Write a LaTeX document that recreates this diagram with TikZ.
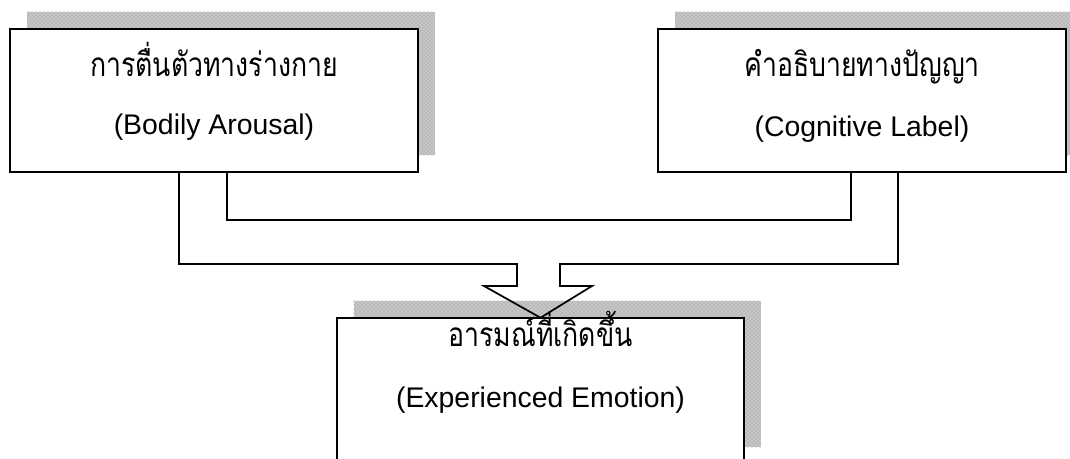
\documentclass[tikz,border=0pt]{standalone}
\usepackage{fontspec}
\setmainfont{Liberation Sans}
\newfontfamily\thaifont[Script=Thai,FakeStretch=0.8]{Loma}
\usetikzlibrary{calc,patterns}
\tikzset{
  x=0.75pt, y=-0.75pt,
  box/.style={draw=black, line width=1.3pt, fill=white, inner sep=0pt},
  shadowfill/.style={preaction={fill=gray!45}, pattern=crosshatch dots, pattern color=gray!85},
  conn/.style={draw=black, line width=1.3pt, line join=miter},
  thaitxt/.style={anchor=base, font=\thaifont\fontsize{25}{28}\selectfont, inner sep=0pt},
  engtxt/.style={anchor=base, font=\fontsize{21.3}{25}\selectfont, inner sep=0pt}
}
\begin{document}
\begin{tikzpicture}
\useasboundingbox (0,0) rectangle (1070,459);
\clip (0,0) rectangle (1070,459);
% boxes (positions)
\path (214,100.5) node[minimum width=306pt, minimum height=107.25pt, inner sep=0pt] (L) {};
\path (862,100.5) node[minimum width=306pt, minimum height=107.25pt, inner sep=0pt] (R) {};
\path (540.5,391) node[minimum width=305.25pt, minimum height=109.5pt, inner sep=0pt] (E) {};
% shadows
\fill[shadowfill] ($(L.south west)+(17,-17)$) rectangle ($(L.north east)+(17,-17)$);
\fill[shadowfill] ($(R.south west)+(17,-17)$) rectangle ($(R.north east)+(17,-17)$);
\fill[shadowfill] ($(E.south west)+(17,-17)$) rectangle ($(E.north east)+(17,-17)$);
% box frames
\draw[box] (L.south west) rectangle (L.north east);
\draw[box] (R.south west) rectangle (R.north east);
\draw[box] (E.south west) rectangle (E.north east);
% texts
\node[thaitxt] (Lt) at (214,77) {การตื่นตัวทางร่างกาย};
\node[engtxt] (Le) at (214,135) {(Bodily Arousal)};
\node[thaitxt] (Rt) at (862,77) {คำอธิบายทางปัญญา};
\node[engtxt] (Re) at (862,137) {(Cognitive Label)};
\node[thaitxt] (Et) at (540.5,347) {อารมณ์ที่เกิดขึ้น};
\node[engtxt] (Ee) at (540.5,407) {(Experienced Emotion)};
% connector reference coordinates
\coordinate (lo) at (179,264);
\coordinate (li) at (227,220);
\coordinate (ri) at (851,220);
\coordinate (ro) at (898,264);
\coordinate (sl) at (517,264);
\coordinate (sr) at (560,264);
\coordinate (wl) at (484,286);
\coordinate (wr) at (592,286);
% inner connector
\draw[conn] (L.south -| li) -- (li) -- (ri) -- (R.south -| ri);
% outer connector with block arrow
\draw[conn] (L.south -| lo) -- (lo) -- (sl) -- (sl |- wl) -- (wl) -- (E.north) -- (wr) -- (sr |- wr) -- (sr) -- (ro) -- (R.south -| ro);
\end{tikzpicture}
\end{document}
